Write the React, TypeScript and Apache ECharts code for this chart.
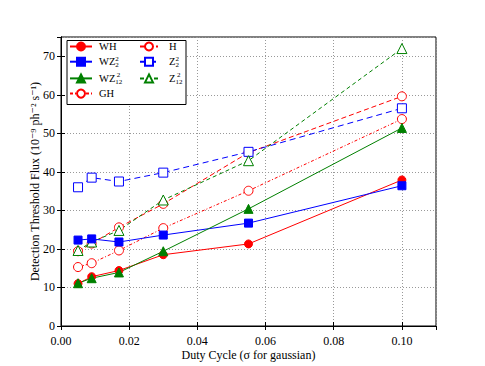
import React, { useEffect, useRef } from "react";
import * as echarts from "echarts";

const dutyCycle = [0.005, 0.009, 0.017, 0.03, 0.055, 0.1];
const WH = [11.0, 12.8, 14.4, 18.5, 21.3, 37.9];
const WZ2 = [22.3, 22.6, 21.8, 23.6, 26.7, 36.4];
const WZ12 = [11.1, 12.4, 13.9, 19.4, 30.4, 51.4];
const GH = [15.3, 16.3, 19.6, 25.4, 35.1, 53.7];
const H = [19.4, 21.4, 25.6, 31.7, 45.0, 59.6];
const Z2 = [36.0, 38.5, 37.5, 39.8, 45.2, 56.5];
const Z12 = [19.6, 21.8, 24.8, 32.7, 42.9, 72.0];

const legendCol1 = ["WH", "WZ2", "WZ12", "GH"];
const legendCol2 = ["H", "Z2", "Z12"];
const labelMap: Record<string, string> = {
  WH: "{b|WH}",
  WZ2: "{b|WZ}{sub|2}{supa|2}",
  WZ12: "{b|WZ}{sub|12}{supb|2}",
  GH: "{b|GH}",
  H: "{b|H}",
  Z2: "{b|Z}{sub|2}{supa|2}",
  Z12: "{b|Z}{sub|12}{supb|2}",
};

const FONT = "'Liberation Serif', 'DejaVu Serif', serif";

const pairs = (ys: number[]) => dutyCycle.map((x, i) => [x, ys[i]]);

export default function App() {
  const ref = useRef<HTMLDivElement>(null);
  useEffect(() => {
    if (!ref.current) return;
    const chart = echarts.init(ref.current, null, { renderer: "svg" });
    const rich = {
      b: { fontFamily: FONT, fontSize: 10.5, lineHeight: 14, color: "#000" },
      sub: { fontFamily: FONT, fontSize: 7, lineHeight: 7, padding: [7, 0, 0, 0], color: "#000" },
      supa: { fontFamily: FONT, fontSize: 7, lineHeight: 7, padding: [0, 0, 6, -3.5], color: "#000" },
      supb: { fontFamily: FONT, fontSize: 7, lineHeight: 7, padding: [0, 0, 6, -5.5], color: "#000" },
    };
    const mk = (
      name: string,
      ys: number[],
      color: string,
      symbol: string,
      size: number,
      type: any,
      filled: boolean
    ) => ({
      name,
      type: "line",
      data: pairs(ys),
      symbol,
      symbolSize: size,
      showSymbol: true,
      lineStyle: { color, width: 1, type },
      itemStyle: filled
        ? { color, borderColor: color, borderWidth: 1 }
        : { color: "#fff", borderColor: color, borderWidth: 1 },
      z: filled ? 3 : 2,
    });
    const tickStyle = { inside: true, length: 4, lineStyle: { color: "#000" } };
    const splitStyle = { show: true, lineStyle: { color: "#999", type: [1, 2], width: 1 } };
    chart.setOption({
      animation: false,
      backgroundColor: "#fff",
      textStyle: { fontFamily: FONT },
      grid: {
        left: 61,
        right: 49,
        top: 37,
        bottom: 38.5,
        show: true,
        borderColor: "#000",
        borderWidth: 1,
        backgroundColor: "transparent",
      },
      xAxis: [
        {
          type: "value",
          min: 0,
          max: 0.11,
          interval: 0.02,
          name: "Duty Cycle (σ for gaussian)",
          nameLocation: "middle",
          nameGap: 23,
          nameMoveOverlap: false,
          nameTextStyle: { fontFamily: FONT, fontSize: 12, color: "#000" },
          axisLine: { show: true, lineStyle: { color: "#000" } },
          axisTick: tickStyle,
          axisLabel: {
            fontFamily: FONT,
            fontSize: 12,
            color: "#000",
            margin: 9,
            showMaxLabel: false,
            formatter: (v: number) => v.toFixed(2),
          },
          splitLine: splitStyle,
        },
        {
          type: "value",
          position: "top",
          min: 0,
          max: 0.11,
          interval: 0.02,
          axisLine: { show: true, lineStyle: { color: "#000" } },
          axisTick: tickStyle,
          axisLabel: { show: false },
          splitLine: { show: false },
        },
      ],
      yAxis: [
        {
          type: "value",
          min: 0,
          max: 75,
          interval: 10,
          name: "Detection Threshold Flux (10⁻⁹ ph⁻² s⁻¹)",
          nameLocation: "middle",
          nameGap: 20,
          nameMoveOverlap: false,
          nameTextStyle: { fontFamily: FONT, fontSize: 12, color: "#000" },
          axisLine: { show: true, lineStyle: { color: "#000" } },
          axisTick: tickStyle,
          axisLabel: {
            fontFamily: FONT,
            fontSize: 12,
            color: "#000",
            margin: 6,
            showMaxLabel: false,
          },
          splitLine: splitStyle,
        },
        {
          type: "value",
          position: "right",
          min: 0,
          max: 75,
          interval: 10,
          axisLine: { show: true, lineStyle: { color: "#000" } },
          axisTick: tickStyle,
          axisLabel: { show: false },
          splitLine: { show: false },
        },
      ],
      graphic: [
        {
          type: "rect",
          z: 3,
          shape: { x: 67, y: 40.5, width: 119, height: 64 },
          style: { fill: "#fff", stroke: "#000", lineWidth: 1 },
        },
      ],
      legend: [
        {
          data: legendCol1,
          orient: "vertical",
          left: 69,
          top: 41,
          padding: 0,
          itemGap: 2.7,
          itemWidth: 22,
          itemHeight: 10,
          z: 5,
          formatter: (n: string) => labelMap[n],
          textStyle: { rich, padding: [0, 0, 0, 2] },
        },
        {
          data: legendCol2,
          orient: "vertical",
          left: 139,
          top: 41,
          padding: 0,
          itemGap: 2.7,
          itemWidth: 18,
          itemHeight: 10,
          z: 5,
          formatter: (n: string) => labelMap[n],
          textStyle: { rich, padding: [0, 0, 0, 6] },
        },
      ],
      series: [
        mk("WH", WH, "#ff0000", "circle", 8, "solid", true),
        mk("H", H, "#ff0000", "circle", 9, [5, 3], false),
        mk("WZ2", WZ2, "#0000ff", "rect", 8, "solid", true),
        mk("Z2", Z2, "#0000ff", "rect", 9, [6, 4], false),
        mk("WZ12", WZ12, "#008000", "triangle", 9, "solid", true),
        mk("Z12", Z12, "#008000", "triangle", 10, [4, 3], false),
        mk("GH", GH, "#ff0000", "circle", 9, [3, 2, 1, 2], false),
      ],
    });
    return () => chart.dispose();
  }, []);
  return (
    <div
      ref={ref}
      style={{ position: "fixed", left: 0, top: 0, width: 485, height: 366 }}
    />
  );
}
